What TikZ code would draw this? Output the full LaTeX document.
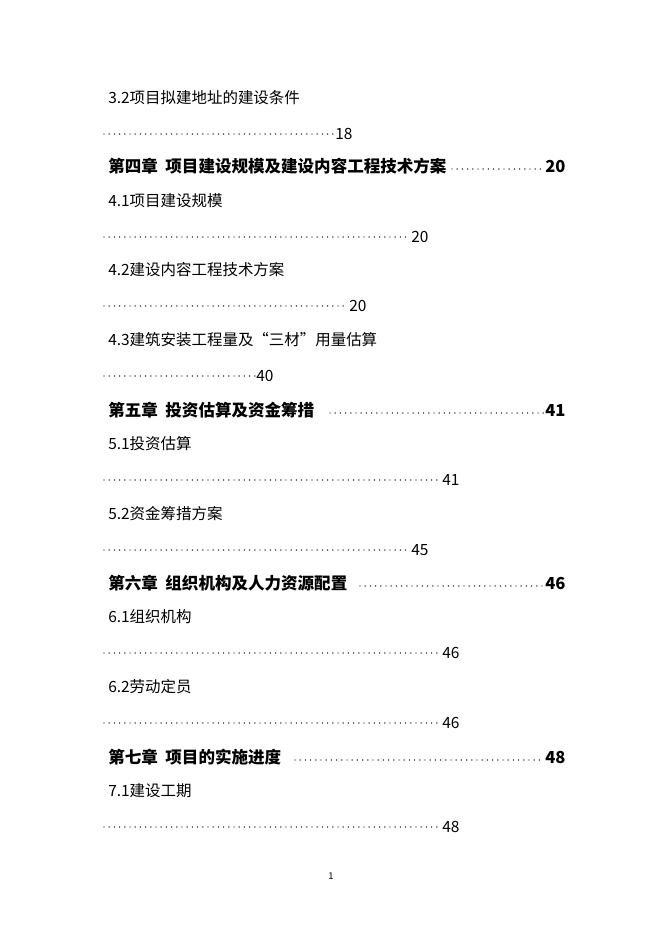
\documentclass[tikz,border=0pt]{standalone}
\usepackage{fontspec}
\setmainfont{Noto Sans CJK SC}
\begin{document}
\begin{tikzpicture}[x=0.75pt, y=-0.75pt,
  entry/.style={anchor=west, inner sep=0pt, font=\fontsize{11.6}{13}\selectfont},
  chapter/.style={entry, font=\fontsize{12.4}{14}\selectfont\bfseries},
  leader/.style={line width=1.1pt, dash pattern=on 0pt off 3.9pt, line cap=round}]
  \useasboundingbox (0,0) rectangle (662,936);
  % section entries: title line, then dots line with page number
  \foreach \ty/\txt/\dend/\pg [count=\i] in {
      98/3.2项目拟建地址的建设条件/334/18,
      201/4.1项目建设规模/410/20,
      270/4.2建设内容工程技术方案/348/20,
      340/4.3建筑安装工程量及“三材”用量估算/255/40,
      444/5.1投资估算/441/41,
      514/5.2资金筹措方案/410/45,
      617/6.1组织机构/441/46,
      687/6.2劳动定员/441/46,
      791/7.1建设工期/441/48} {
    \node[entry] (sec\i) at (108,\ty) {\txt};
    \draw[leader] (104,\ty+36) -- (\dend,\ty+36);
    \node[entry] (pg\i) at (\dend+1,\ty+36) {\pg};
  }
  % chapter entries with leaders on the same line
  \foreach \ty/\txt/\dstart/\pg [count=\i] in {
      166/第四章\ \ 项目建设规模及建设内容工程技术方案/452/20,
      410/第五章\ \ 投资估算及资金筹措/330/41,
      583/第六章\ \ 组织机构及人力资源配置/360/46,
      757/第七章\ \ 项目的实施进度/295/48} {
    \node[chapter] (ch\i) at (108,\ty) {\txt};
    \draw[leader] (\dstart,\ty+3) -- (544,\ty+3);
    \node[chapter] (chpg\i) at (545,\ty) {\pg};
  }
  \node[inner sep=0pt, font=\fontsize{7}{8}\selectfont] (page) at (331,876) {1};
\end{tikzpicture}
\end{document}
